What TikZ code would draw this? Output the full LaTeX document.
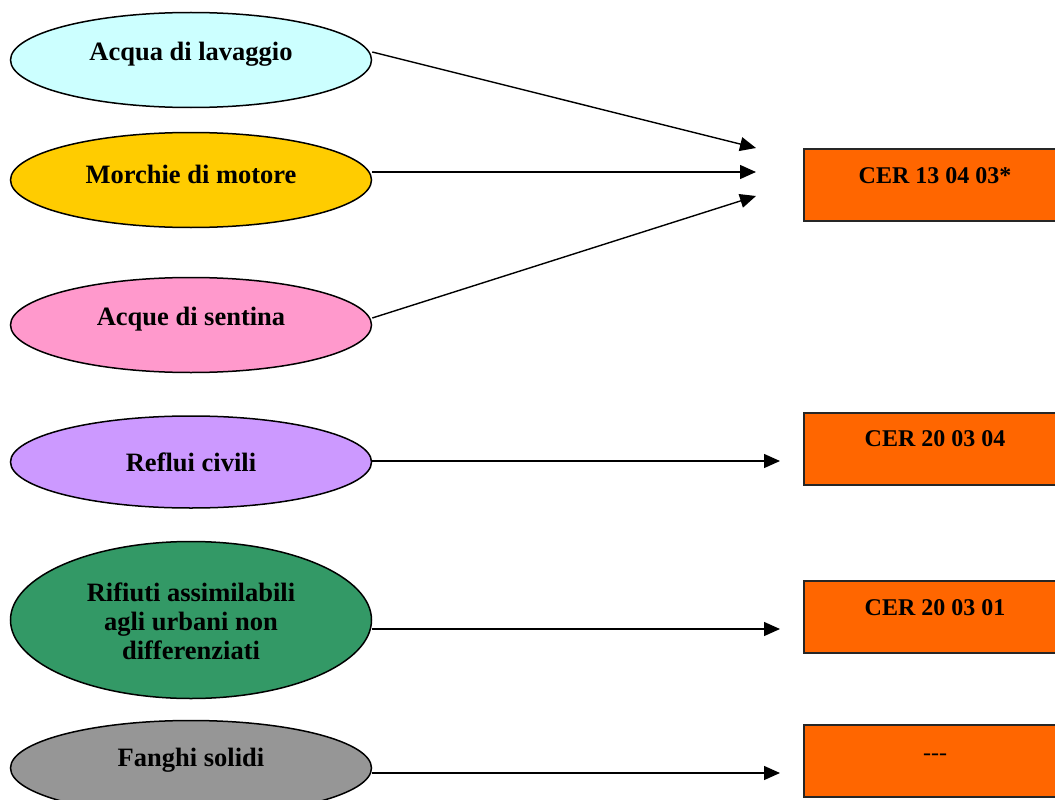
\documentclass[tikz,border=0pt]{standalone}
\usepackage{fontspec}
\setmainfont{Liberation Serif}
\usetikzlibrary{shapes.geometric,arrows.meta}
\definecolor{cA}{HTML}{CCFFFF}
\definecolor{cB}{HTML}{FFCC00}
\definecolor{cC}{HTML}{FF99CC}
\definecolor{cD}{HTML}{CC99FF}
\definecolor{cE}{HTML}{339966}
\definecolor{cF}{HTML}{969696}
\definecolor{cO}{HTML}{FF6600}
\tikzset{
  src/.style={ellipse, draw=black, line width=1.5pt, minimum width=361pt, minimum height=95pt, inner sep=0pt},
  srctext/.style={font=\fontsize{26.5}{29}\selectfont\bfseries, align=center, inner sep=0pt},
  cer/.style={draw=black!85, line width=1.6pt, fill=cO},
  certext/.style={font=\fontsize{24}{28}\selectfont\bfseries, inner sep=0pt},
  conn/.style={line width=1.4pt, -{Triangle[length=16pt,width=14pt]}}
}
\begin{document}
\begin{tikzpicture}[x=1pt,y=-1pt]
\clip (0,0) rectangle (1055,800);
\fill[white] (0,0) rectangle (1055,800);
% sources
\node[src, fill=cA] (e1) at (191,60) {};
\node[src, fill=cB] (e2) at (191,180) {};
\node[src, fill=cC] (e3) at (191,325) {};
\node[src, fill=cD, minimum height=92pt] (e4) at (191,462) {};
\node[src, fill=cE, minimum height=157pt] (e5) at (191,620) {};
\node[src, fill=cF] (e6) at (191,768) {};
\node[srctext] (l1) at (191,54) {Acqua di lavaggio};
\node[srctext] (l2) at (191,174) {Morchie di motore};
\node[srctext] (l3) at (191,319) {Acque di sentina};
\node[srctext] (l4) at (191,462) {Reflui civili};
\node[srctext] (l5) at (191,621) {Rifiuti assimilabili\\agli urbani non\\differenziati};
\node[srctext] (l6) at (191,760) {Fanghi solidi};
% targets
\draw[cer] (804,149) rectangle (1070,221);
\draw[cer] (804,413) rectangle (1070,485);
\draw[cer] (804,581) rectangle (1070,653);
\draw[cer] (804,725) rectangle (1070,797);
\node[certext] (b1) at (935,176) {CER 13 04 03*};
\node[certext] (b2) at (935,439) {CER 20 03 04};
\node[certext] (b3) at (935,608) {CER 20 03 01};
\node[font=\fontsize{24}{28}\selectfont, inner sep=0pt] (b4) at (935,757) {-{}-{}-};
% arrow targets
\coordinate (t1) at (756,148);
\coordinate (t2) at (756,172);
\coordinate (t3) at (756,196);
\coordinate (t4) at (780,461);
\coordinate (t5) at (780,629);
\coordinate (t6) at (780,773);
\draw[conn] ([yshift=8pt]e1.east) -- (t1);
\draw[conn] ([yshift=8pt]e2.east) -- (t2);
\draw[conn] ([yshift=7pt]e3.east) -- (t3);
\draw[conn] ([yshift=1pt]e4.east) -- (t4);
\draw[conn] ([yshift=-9pt]e5.east) -- (t5);
\draw[conn] ([yshift=-5pt]e6.east) -- (t6);
\end{tikzpicture}
\end{document}
